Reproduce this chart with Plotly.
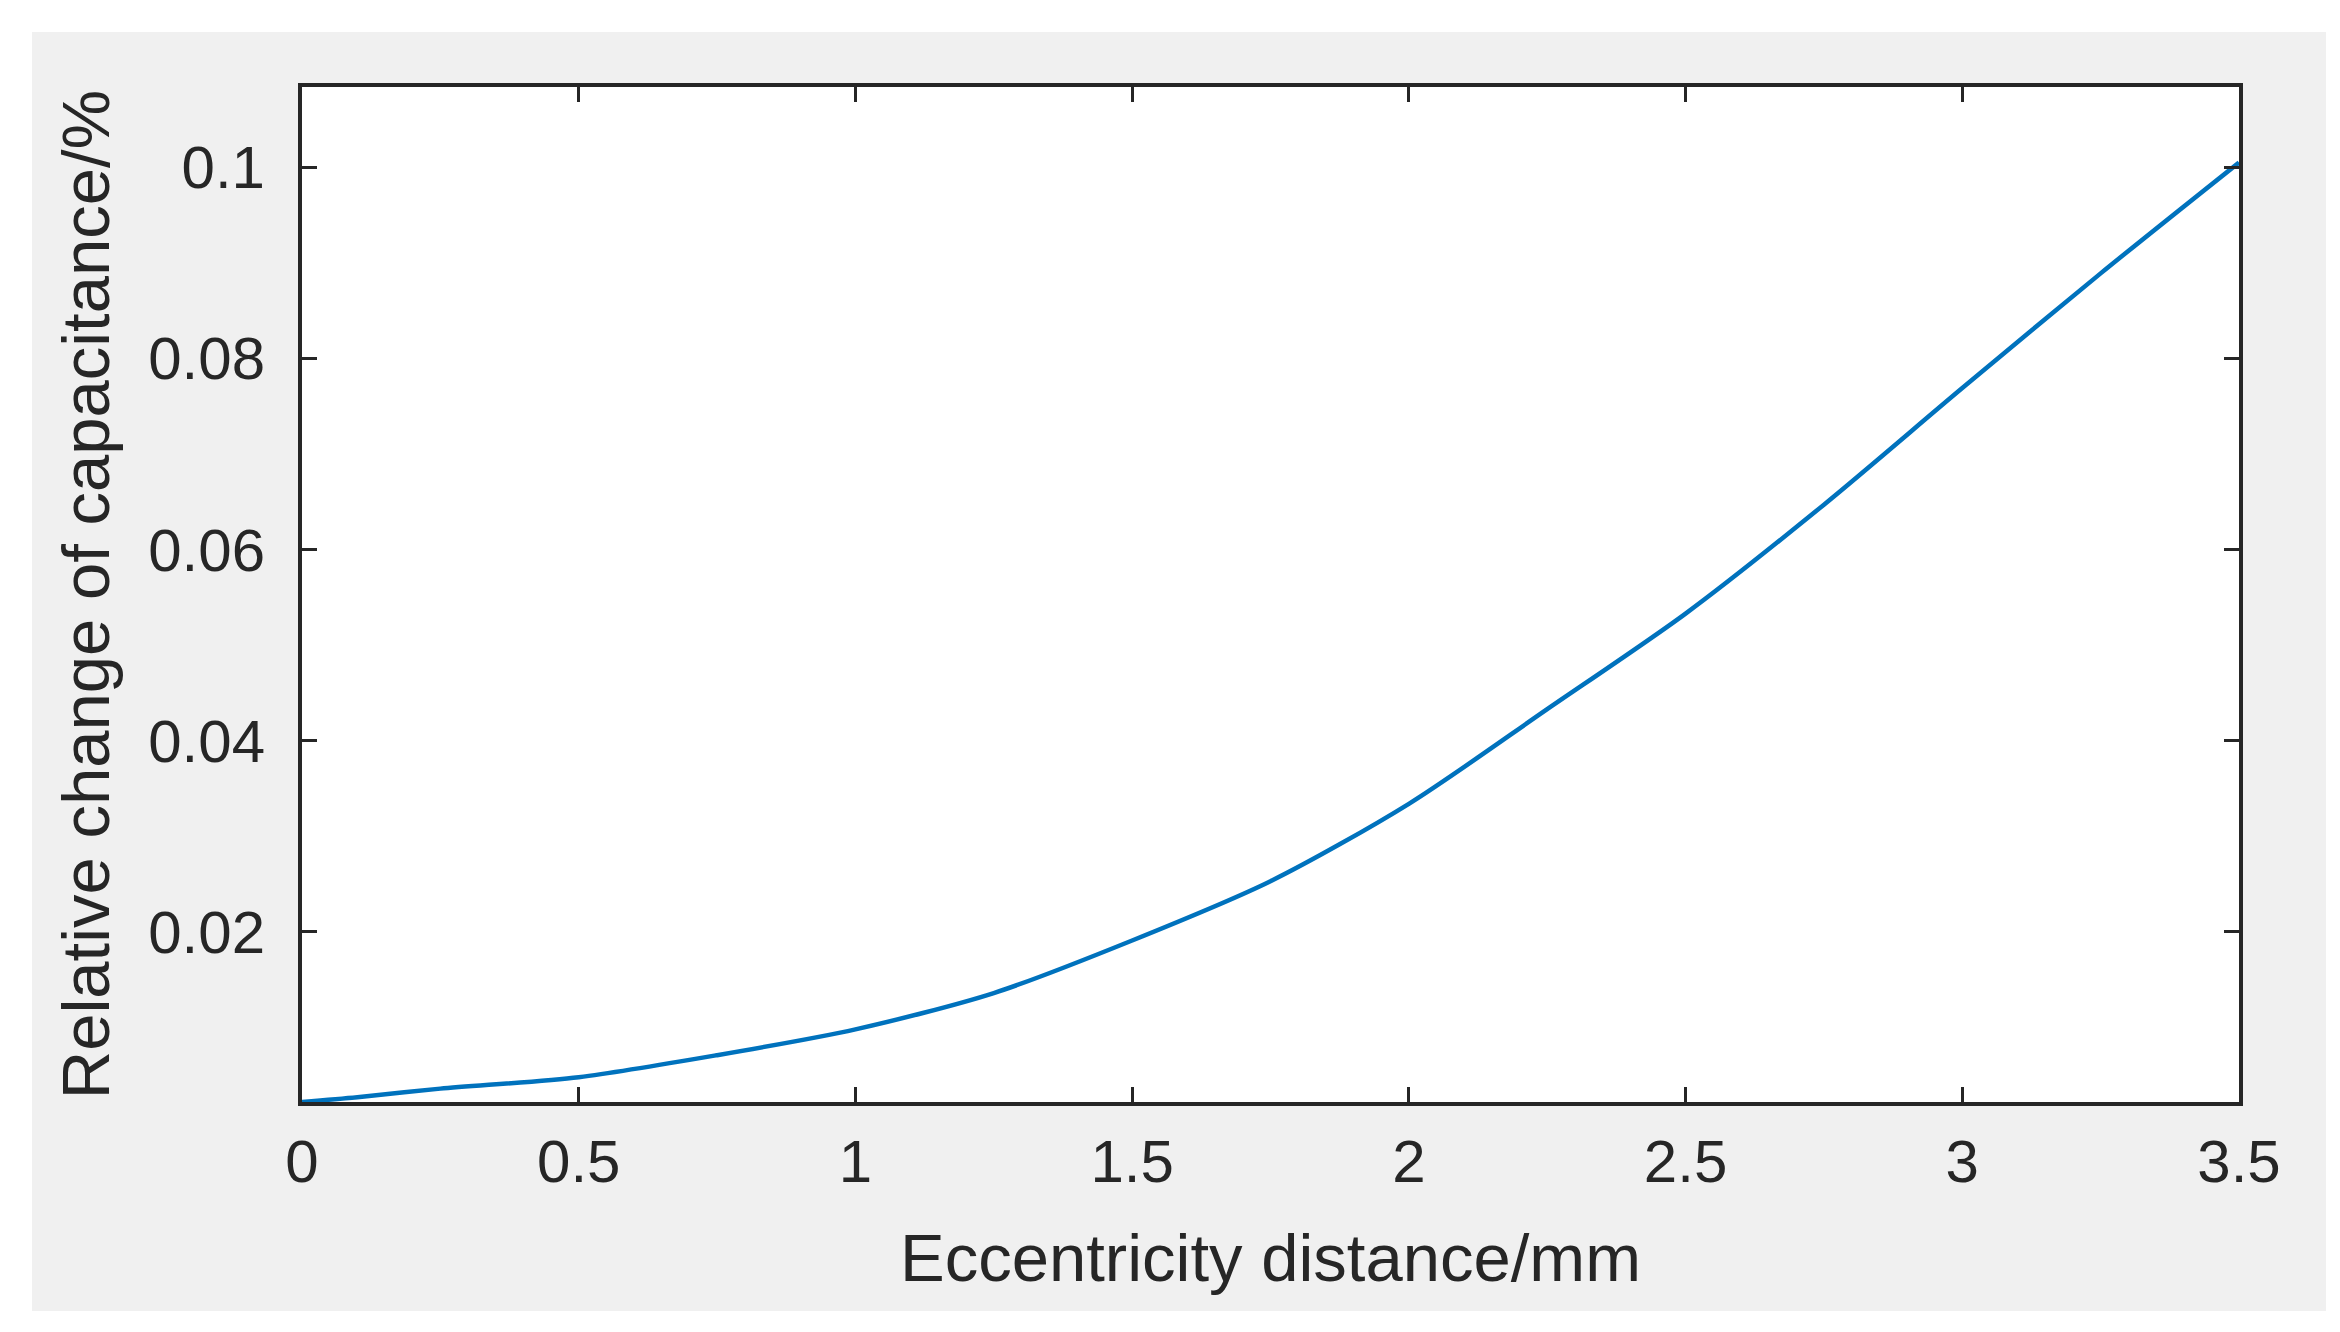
import plotly.graph_objects as go

# Data
eccentricity_mm = [0.0, 0.1, 0.25, 0.5, 0.75, 1.0, 1.25, 1.5, 1.75, 2.0, 2.25, 2.5, 2.75, 3.0, 3.25, 3.5]
relative_change = [0.0022, 0.0027, 0.0036, 0.0048, 0.0071, 0.0098, 0.0136, 0.0191, 0.0253,
                   0.0334, 0.0433, 0.0533, 0.0647, 0.0769, 0.0889, 0.1005]

x_tickvals = [0, 0.5, 1, 1.5, 2, 2.5, 3, 3.5]
x_ticktext = ["0", "0.5", "1", "1.5", "2", "2.5", "3", "3.5"]
y_tickvals = [0.02, 0.04, 0.06, 0.08, 0.1]
y_ticktext = ["0.02", "0.04", "0.06", "0.08", "0.1"]

AX = "#262626"
FONT = "Liberation Sans, Arial, sans-serif"

fig = go.Figure()
fig.add_trace(go.Scatter(
    x=eccentricity_mm, y=relative_change, mode="lines",
    line=dict(color="#0072BD", width=4.5, shape="spline", smoothing=0.8),
    showlegend=False, cliponaxis=True,
))

fig.update_layout(
    width=2340, height=1332,
    margin=dict(l=294, r=109, t=79, b=238),
    paper_bgcolor="white", plot_bgcolor="white",
    font=dict(family=FONT, color=AX),
    shapes=[
        dict(type="rect", xref="paper", yref="paper",
             x0=-0.1394, x1=1.0449, y0=-0.2059, y1=1.0542,
             fillcolor="#F0F0F0", line=dict(width=0), layer="below"),
        dict(type="rect", xref="paper", yref="paper",
             x0=0, x1=1, y0=0, y1=1,
             fillcolor="white", line=dict(width=0), layer="below"),
    ],
)

fig.update_xaxes(
    range=[0, 3.5], tickvals=x_tickvals, ticktext=x_ticktext,
    showgrid=False, zeroline=False,
    showline=True, linecolor=AX, linewidth=4, mirror="ticks",
    ticks="inside", ticklen=15, tickwidth=3, tickcolor=AX,
    tickfont=dict(size=60, color=AX, family=FONT), ticklabelstandoff=4,
    title=dict(text="Eccentricity distance/mm", font=dict(size=67, color=AX, family=FONT), standoff=41),
)
fig.update_yaxes(
    range=[0.0022, 0.1084], tickvals=y_tickvals, ticktext=y_ticktext,
    showgrid=False, zeroline=False,
    showline=True, linecolor=AX, linewidth=4, mirror="ticks",
    ticks="inside", ticklen=15, tickwidth=3, tickcolor=AX,
    tickfont=dict(size=60, color=AX, family=FONT), ticklabelstandoff=21,
    title=dict(text="Relative change of capacitance/%", font=dict(size=67, color=AX, family=FONT), standoff=18),
)

fig.write_html("out.html")
